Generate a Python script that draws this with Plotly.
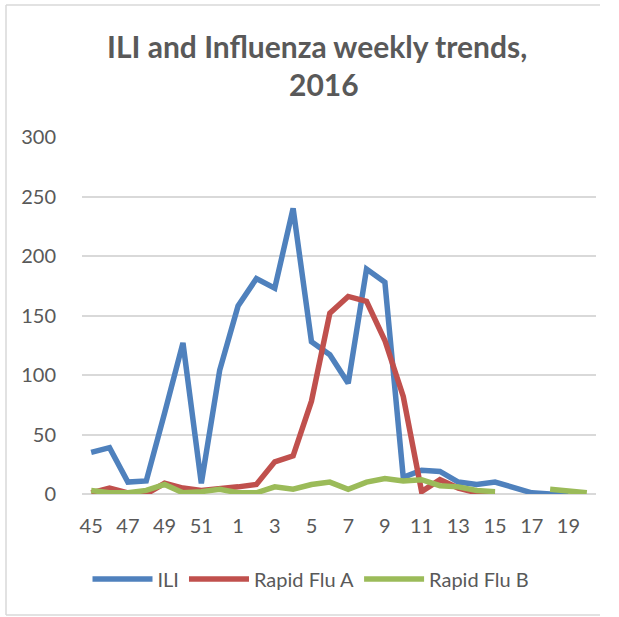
import plotly.graph_objects as go

weeks = ["45", "46", "47", "48", "49", "50", "51", "52",
         "1", "2", "3", "4", "5", "6", "7", "8", "9", "10",
         "11", "12", "13", "14", "15", "16", "17", "18", "19", "20"]
tick_labels = ["45", "47", "49", "51", "1", "3", "5", "7", "9", "11", "13", "15", "17", "19"]

ili = [35, 39, 10, 11, 68, 127, 9, 104,
       158, 181, 173, 240, 128, 117, 93, 189, 178, 14,
       20, 19, 10, 8, 10, 5, 1, 0, 0, None]
flu_a = [1, 5, 1, 0, 9, 5, 3, 4,
         6, 8, 27, 32, 78, 152, 166, 162, 129, 82,
         2, 12, 5, 1, 1, None, None, None, None, None]
flu_b = [3, 1, 1, 3, 8, 1, 2, 4,
         1, 1, 6, 4, 8, 10, 4, 10, 13, 11,
         12, 7, 6, 3, 2, None, None, 4, 2, 1]

W, H = 619, 617
L, R, T, B = 82, 596, 137, 494

def px(x):
    return (x - L) / (R - L)

def py(y):
    return (B - y) / (B - T)

FONT = "Lato, 'Open Sans', sans-serif"
GREY = "#595959"
BORDER = dict(color="#D9D9D9", width=1.5)

fig = go.Figure()
for name, vals, col in [("ILI", ili, "#4F81BD"),
                        ("Rapid Flu A", flu_a, "#C0504D"),
                        ("Rapid Flu B", flu_b, "#9BBB59")]:
    fig.add_trace(go.Scatter(x=weeks, y=vals, name=name, mode="lines",
                             line=dict(color=col, width=5.5),
                             connectgaps=False))

fig.update_layout(
    width=W, height=H,
    margin=dict(l=L, r=W - R, t=T, b=H - B, pad=0),
    paper_bgcolor="white", plot_bgcolor="white",
    font=dict(family=FONT, color=GREY, size=20),
    showlegend=True,
    legend=dict(orientation="h", x=px(311), xanchor="center", y=py(579), yanchor="middle",
                font=dict(size=20, color=GREY), itemwidth=60, bgcolor="rgba(0,0,0,0)"),
    xaxis=dict(type="category", categoryorder="array", categoryarray=weeks,
               range=[-0.5, len(weeks) - 0.5],
               tickmode="array", tickvals=tick_labels, ticktext=tick_labels,
               showgrid=False, showline=False, zeroline=False,
               ticks="outside", ticklen=14, tickcolor="rgba(0,0,0,0)",
               tickfont=dict(size=20, color=GREY)),
    yaxis=dict(range=[0, 300], tickmode="linear", tick0=0, dtick=50,
               showgrid=True, gridcolor="#D9D9D9", gridwidth=1.5,
               zeroline=True, zerolinecolor="#D9D9D9", zerolinewidth=1.5,
               showline=False, ticks="outside", ticklen=21, tickcolor="rgba(0,0,0,0)",
               tickfont=dict(size=20, color=GREY)),
    annotations=[
        dict(text="<b>ILI and Influenza weekly trends,</b>", x=px(317), y=py(46),
             xref="paper", yref="paper", xanchor="center", yanchor="middle",
             showarrow=False, font=dict(size=30, color=GREY, family=FONT)),
        dict(text="<b>2016</b>", x=px(324), y=py(84),
             xref="paper", yref="paper", xanchor="center", yanchor="middle",
             showarrow=False, font=dict(size=30, color=GREY, family=FONT)),
    ],
    shapes=[
        dict(type="line", xref="paper", yref="paper", x0=px(6), x1=px(6),
             y0=py(615), y1=py(5), line=BORDER, layer="below"),
        dict(type="line", xref="paper", yref="paper", x0=px(6), x1=px(600),
             y0=py(5), y1=py(5), line=BORDER, layer="below"),
        dict(type="line", xref="paper", yref="paper", x0=px(6), x1=px(600),
             y0=py(615), y1=py(615), line=BORDER, layer="below"),
    ],
)

fig.write_html("out.html", config={"displayModeBar": False},
               post_script="document.body.style.margin='0';"
                           "document.documentElement.style.overflow='hidden';")
